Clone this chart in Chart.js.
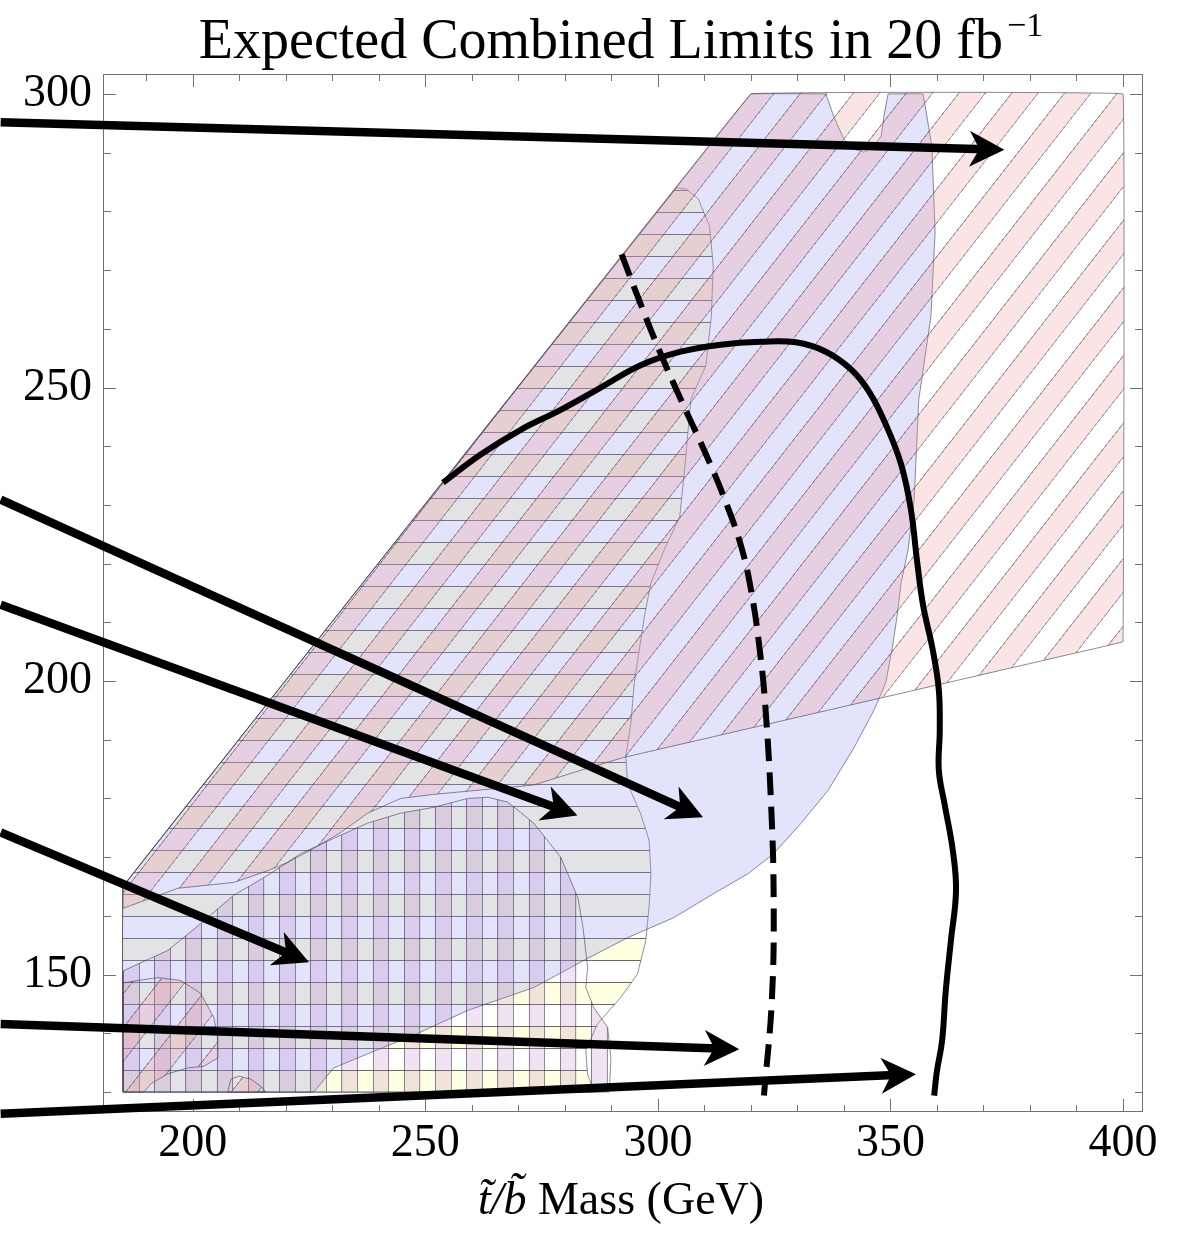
<!DOCTYPE html>
<html>
<head>
<meta charset="utf-8">
<script src="https://cdn.jsdelivr.net/npm/chart.js@4.4.1/dist/chart.umd.min.js"></script>
<style>
  html, body { margin: 0; padding: 0; background: #fff; }
</style>
</head>
<body>
<canvas id="limits" width="1187" height="1248"></canvas>
<script>
// ticks and labels
const xTicks = [200, 250, 300, 350, 400];
const yTicks = [150, 200, 250, 300];
const titleText = ['Expected Combined Limits in 20 fb', '\u22121'];
const xLabel = ['t\u0303/b\u0303', ' Mass (GeV)'];

// pink diagonal hatched region, main piece and two islands at the bottom left
const pinkMain = [[185,165],[320,300],[400,300],[400,206.7],[391,205],[292.7,187],[283.4,184.8],[273.3,182.3],
  [251.8,180.7],[244.7,180],[237.6,177.5],[231.8,174.2],[226,171.5],[220.4,169.1],[216.1,167.7],[208.8,165.7],
  [196.8,164.7],[185,161.3],[185,165]];
const pinkIsland1 = [[185,148.6],[192.5,149.5],[197.4,149],[201.7,146.8],[204.5,142.7],[205.4,139.2],[205.4,135.8],
  [202.4,134.4],[198.9,134.1],[194.6,133.1],[191,131.4],[189.5,130],[185,130],[185,148.6]];
const pinkIsland2 = [[207.5,130],[208.2,132.2],[209.9,132.7],[212.5,132.2],[214.6,131],[215.7,130],[207.5,130]];

// plain blue region
const blueRegion = [[185,130],[226,130],[230.3,134.1],[237.6,136.5],[248.4,140],[259.1,143.9],[273.3,147.8],
  [284.5,152.6],[293.5,156.3],[303.4,159.7],[312,163.8],[319.4,167.2],[324.9,170.6],[330.8,175.8],[336.6,181.4],
  [342.2,188.7],[346.5,195.1],[349,199.7],[350.5,206.1],[351.4,210.9],[352.3,216.7],[353.8,222.4],[355.1,230.9],
  [356.1,248],[358.7,262.1],[359.6,276.5],[358.9,291.1],[357,300],[349.5,300],[348.6,296.2],[348,292.8],
  [346.2,291],[344.3,290.1],[342.2,290.6],[340,292.3],[337.8,296.2],[336.1,300],[320,300],[185,165],[185,130]];

// horizontal hatched region
const yellowRegion = [[185,130],[286.3,130],[284.9,133],[284.5,137],[287,141.6],[292,146.1],[295.6,150.1],
  [297.4,155.8],[298.1,161.5],[298.5,167.2],[298.1,172.9],[296.3,177.4],[293.5,182.5],[293.1,187.1],[294.2,192.8],
  [294.9,199.6],[296,205.3],[297.1,211],[298.5,216.7],[301.4,222.4],[304.7,228],[305.8,236.5],[307.1,248],
  [310.3,253.7],[311.5,262.2],[311.9,270.7],[311.1,277.5],[308.7,282.1],[306.1,283.8],[304,284],[185,165],[185,130]];

// vertical hatched region
const violetRegion = [[185,130],[289.5,130],[289.9,135.8],[289.2,141],[286.2,144.4],[284.5,147.8],[284.9,151.2],
  [283.9,158],[282.8,163.1],[279.1,170],[273.3,175.8],[267.7,179.4],[263.4,180.2],[259.1,180],[251.8,178.5],
  [244.7,177.5],[237.6,175.8],[230.3,173.2],[223.2,170.6],[216.1,166.9],[208.8,163.5],[201.7,158.7],
  [194.6,154.1],[185,150.6],[185,130]];

// limit curves
const dashedLimit = [[292.2,272.7],[295.9,265],[300.2,256.5],[304.9,248],[309.9,239.4],[314.4,230.9],[318.1,222.4],
  [320.4,213.8],[321.9,205.3],[323,196.8],[324.3,179.7],[324.9,162.6],[324.5,145.6],[322.8,129.4]];
const solidLimit = [[253.8,233.8],[261.9,238.6],[270.5,242.8],[279.1,246.2],[287.7,250],[296.3,253.8],[304.9,256.1],
  [313.5,257.3],[322.2,257.8],[329.7,257.7],[336.1,256.1],[341.5,253.1],[345.4,249.3],[349,243.7],[352.3,236.9],
  [354.4,229.2],[355.7,220.6],[357,213],[359.1,205.3],[360.4,198.5],[360.6,191.6],[360.4,184.8],[361.7,178.8],
  [363.4,171.2],[364.1,164.3],[363,155.8],[361.9,147.3],[361.1,138.7],[360,133.6],[359.4,129.4]];

// arrows (tail, tip)
const arrowTails = [[158.7,295.2],[158.7,230.9],[158.7,213.0],[158.7,174.2],[158.7,141.6],[158.7,126.3]];
const arrowTips = [[374.5,290.5],[309.7,176.8],[282.7,177.1],[225.0,152.1],[317.5,137.3],[355.5,133.05]];

const serif = '"Liberation Serif", "Times New Roman", serif';
const pts = arr => arr.map(([x, y]) => ({x, y}));

// stripe pattern: colored band + empty band, 1px line at each band edge
function stripes(chart, o) {
  const k = 4;
  const half = Math.round(o.period * k);
  const tile = document.createElement('canvas');
  tile.width = half * 2;
  tile.height = 8;
  const g = tile.getContext('2d');
  g.fillStyle = o.color;
  g.fillRect(0, 0, half, 8);
  g.fillStyle = o.line;
  g.fillRect(0, 0, k, 8);
  g.fillRect(half, 0, k, 8);
  const p = chart.ctx.createPattern(tile, 'repeat');
  const s = o.period / half;
  p.setTransform(new DOMMatrix().translate(o.ax, o.ay).rotate(o.angle).scale(s, s));
  return p;
}

const cache = {};
function hatch(name, spec) {
  return (c) => {
    const chart = c.chart;
    if (!chart.chartArea) return 'transparent';
    const key = name + chart.chartArea.left + '_' + chart.chartArea.bottom;
    if (!cache[key]) cache[key] = stripes(chart, spec(chart.scales.x, chart.scales.y));
    return cache[key];
  };
}

const pinkHatch = hatch('pink', (x, y) => ({
  period: 20.8, angle: 38, color: 'rgba(240,150,150,0.26)', line: 'rgba(60,50,70,0.45)',
  ax: x.getPixelForValue(400) - 7, ay: y.getPixelForValue(300)
}));
const yellowHatch = hatch('yellow', (x, y) => ({
  period: 22, angle: 90, color: 'rgba(255,255,120,0.22)', line: 'rgba(40,40,40,0.7)',
  ax: 0, ay: y.getPixelForValue(130) - 22
}));
const violetHatch = hatch('violet', (x, y) => ({
  period: 15.6, angle: 0, color: 'rgba(180,120,190,0.2)', line: 'rgba(50,40,80,0.55)',
  ax: x.getPixelForValue(185), ay: 0
}));

const outline = 'rgba(60,60,80,0.6)';
function region(data, bg, order) {
  return {data: pts(data), fill: 'shape', backgroundColor: bg, borderColor: outline, borderWidth: 1,
    pointRadius: 0, tension: 0.01, order};
}

const datasets = [
  region(yellowRegion, yellowHatch, 60),
  region(blueRegion, 'rgba(150,150,240,0.27)', 50),
  region(violetRegion, violetHatch, 40),
  region(pinkMain, pinkHatch, 30),
  region(pinkIsland1, pinkHatch, 30),
  region(pinkIsland2, pinkHatch, 30),
  {data: pts(dashedLimit), borderColor: '#000', borderWidth: 6, borderDash: [23, 11], fill: false,
    pointRadius: 0, tension: 0.4, order: 20},
  {data: pts(solidLimit), borderColor: '#000', borderWidth: 6, fill: false, borderJoinStyle: 'round',
    pointRadius: 0, tension: 0.4, order: 20}
];
arrowTails.forEach((t, i) => {
  datasets.push({data: pts([t, arrowTips[i]]), arrow: true, borderColor: '#000', borderWidth: 8.5,
    fill: false, pointRadius: 0, clip: false, order: 10});
});

// frame with inward ticks on all four sides
const frameTicks = {
  id: 'frameTicks',
  beforeDatasetsDraw(chart) {
    const {ctx, chartArea: a, scales: {x, y}} = chart;
    ctx.save();
    ctx.strokeStyle = '#707070';
    ctx.lineWidth = 1;
    ctx.strokeRect(a.left + 0.5, a.top + 0.5, a.width - 1, a.height - 1);
    ctx.beginPath();
    for (let v = 190; v <= 400; v += 10) {
      const px = Math.round(x.getPixelForValue(v)) + 0.5;
      const len = xTicks.includes(v) ? 13 : 7;
      ctx.moveTo(px, a.bottom); ctx.lineTo(px, a.bottom - len);
      ctx.moveTo(px, a.top); ctx.lineTo(px, a.top + len);
    }
    for (let v = 130; v <= 300; v += 10) {
      const py = Math.round(y.getPixelForValue(v)) + 0.5;
      const len = yTicks.includes(v) ? 13 : 8;
      ctx.moveTo(a.left, py); ctx.lineTo(a.left + len, py);
      ctx.moveTo(a.right, py); ctx.lineTo(a.right - len, py);
    }
    ctx.stroke();
    ctx.restore();
  }
};

// arrow heads; the shaft is clipped just behind the tip
function arrowGeom(meta) {
  const [p0, p1] = meta.data;
  const dx = p1.x - p0.x, dy = p1.y - p0.y, L = Math.hypot(dx, dy);
  return {tx: p1.x, ty: p1.y, ux: dx / L, uy: dy / L, nx: -dy / L, ny: dx / L};
}
const arrowHeads = {
  id: 'arrowHeads',
  beforeDatasetDraw(chart, args) {
    if (!chart.data.datasets[args.index].arrow) return;
    const {tx, ty, ux, uy, nx, ny} = arrowGeom(args.meta);
    const ctx = chart.ctx, R = 3000;
    const bx = tx - ux * 24, by = ty - uy * 24;
    ctx.save();
    ctx.beginPath();
    ctx.moveTo(bx + nx * R, by + ny * R);
    ctx.lineTo(bx - nx * R, by - ny * R);
    ctx.lineTo(bx - nx * R - ux * R, by - ny * R - uy * R);
    ctx.lineTo(bx + nx * R - ux * R, by + ny * R - uy * R);
    ctx.closePath();
    ctx.clip();
  },
  afterDatasetDraw(chart, args) {
    if (!chart.data.datasets[args.index].arrow) return;
    const ctx = chart.ctx;
    ctx.restore();
    const {tx, ty, ux, uy, nx, ny} = arrowGeom(args.meta);
    ctx.save();
    ctx.fillStyle = '#000';
    ctx.beginPath();
    ctx.moveTo(tx, ty);
    ctx.lineTo(tx - ux * 35 + nx * 18, ty - uy * 35 + ny * 18);
    ctx.lineTo(tx - ux * 25, ty - uy * 25);
    ctx.lineTo(tx - ux * 35 - nx * 18, ty - uy * 35 - ny * 18);
    ctx.closePath();
    ctx.fill();
    ctx.restore();
  }
};

// title with superscript and x label with italic part
const texts = {
  id: 'texts',
  afterDraw(chart) {
    const {ctx, chartArea: a} = chart;
    const cx = (a.left + a.right) / 2 - 2;
    ctx.save();
    ctx.fillStyle = '#000';
    ctx.textAlign = 'left';
    ctx.textBaseline = 'alphabetic';
    ctx.font = '56px ' + serif;
    const w1 = ctx.measureText(titleText[0]).width;
    ctx.font = '34px ' + serif;
    const w2 = ctx.measureText(titleText[1]).width;
    const x0 = cx - (w1 + w2 + 4) / 2;
    ctx.font = '56px ' + serif;
    ctx.fillText(titleText[0], x0, 58);
    ctx.font = '34px ' + serif;
    ctx.fillText(titleText[1], x0 + w1 + 4, 36);

    ctx.font = 'italic 46px ' + serif;
    const w3 = ctx.measureText(xLabel[0]).width;
    ctx.font = '46px ' + serif;
    const w4 = ctx.measureText(xLabel[1]).width;
    const x1 = cx - (w3 + w4) / 2;
    ctx.font = 'italic 46px ' + serif;
    ctx.fillText(xLabel[0], x1, 1214);
    ctx.font = '46px ' + serif;
    ctx.fillText(xLabel[1], x1 + w3, 1214);
    ctx.restore();
  }
};

new Chart(document.getElementById('limits'), {
  type: 'line',
  data: {datasets},
  options: {
    responsive: false,
    animation: false,
    layout: {padding: {top: 74, right: 44, left: 0, bottom: 0}},
    plugins: {legend: {display: false}, tooltip: {enabled: false}, title: {display: false}},
    scales: {
      x: {
        type: 'linear', min: 180.7, max: 404.3,
        afterBuildTicks: s => { s.ticks = xTicks.map(v => ({value: v})); },
        afterFit: s => { s.height = 136; },
        ticks: {font: {family: serif, size: 46}, color: '#000', padding: 4, maxRotation: 0, autoSkip: false},
        grid: {display: false, drawTicks: false},
        border: {display: false}
      },
      y: {
        type: 'linear', min: 126.6, max: 303.4,
        afterBuildTicks: s => { s.ticks = yTicks.map(v => ({value: v})); },
        afterFit: s => { s.width = 103; },
        ticks: {font: {family: serif, size: 46}, color: '#000', padding: 11, autoSkip: false},
        grid: {display: false, drawTicks: false},
        border: {display: false}
      }
    }
  },
  plugins: [frameTicks, arrowHeads, texts]
});
</script>
</body>
</html>
